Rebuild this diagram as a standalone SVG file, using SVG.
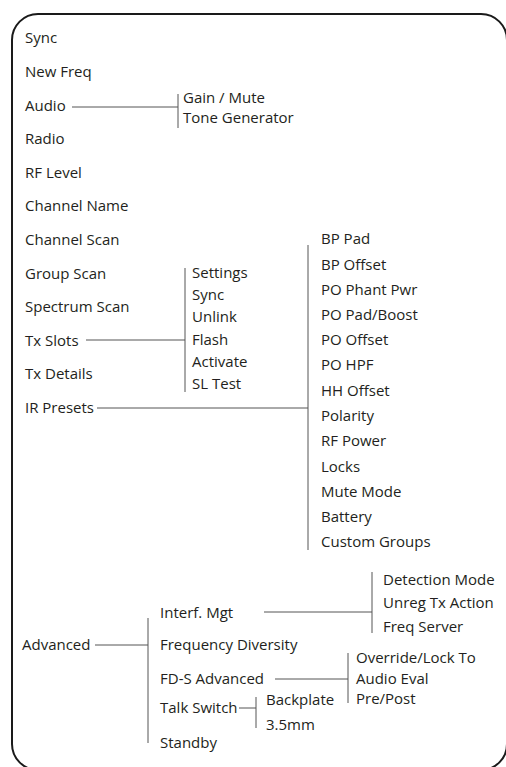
<svg xmlns="http://www.w3.org/2000/svg" width="506" height="767" viewBox="0 0 506 767">
<style>
text{font-family:"Open Sans","Liberation Sans",sans-serif;font-size:15px;fill:#231f20}
.c{stroke:#555;stroke-width:1;fill:none}
.frame{fill:#fff;stroke:#1a1a1a;stroke-width:2}
</style>
<rect width="506" height="767" fill="#fff"/>
<rect class="frame" x="12" y="14" width="495" height="756" rx="26" ry="26"/>
<g id="connectors">
<path class="c" d="M72 107H178M178 94V128"/>
<path class="c" d="M86 340H185M185 268V392"/>
<path class="c" d="M97 408H308M308 245V550"/>
<path class="c" d="M264 612H372M372 572V633"/>
<path class="c" d="M95 645H148M148 618V743"/>
<path class="c" d="M275 679H348M348 653V703"/>
<path class="c" d="M239 708H256M256 697V728"/>
</g>
<g id="n-sync"><text x="25" y="43">Sync</text></g>
<g id="n-newfreq"><text x="25" y="77">New Freq</text></g>
<g id="n-audio"><text x="25" y="111">Audio</text></g>
<g id="n-audio-sub"><text x="183" y="103">Gain / Mute</text><text x="183" y="123">Tone Generator</text></g>
<g id="n-radio"><text x="25" y="144">Radio</text></g>
<g id="n-rflevel"><text x="25" y="178">RF Level</text></g>
<g id="n-channelname"><text x="25" y="211">Channel Name</text></g>
<g id="n-channelscan"><text x="25" y="245">Channel Scan</text></g>
<g id="n-groupscan"><text x="25" y="279">Group Scan</text></g>
<g id="n-spectrumscan"><text x="25" y="312">Spectrum Scan</text></g>
<g id="n-txslots"><text x="25" y="346">Tx Slots</text></g>
<g id="n-txdetails"><text x="25" y="379">Tx Details</text></g>
<g id="n-irpresets"><text x="25" y="413">IR Presets</text></g>
<g id="n-txslots-sub">
<text x="192" y="278">Settings</text>
<text x="192" y="300">Sync</text>
<text x="192" y="322">Unlink</text>
<text x="192" y="345">Flash</text>
<text x="192" y="367">Activate</text>
<text x="192" y="389">SL Test</text>
</g>
<g id="n-irpresets-sub">
<text x="321" y="244">BP Pad</text>
<text x="321" y="270">BP Offset</text>
<text x="321" y="295">PO Phant Pwr</text>
<text x="321" y="320">PO Pad/Boost</text>
<text x="321" y="345">PO Offset</text>
<text x="321" y="370">PO HPF</text>
<text x="321" y="396">HH Offset</text>
<text x="321" y="421">Polarity</text>
<text x="321" y="446">RF Power</text>
<text x="321" y="472">Locks</text>
<text x="321" y="497">Mute Mode</text>
<text x="321" y="522">Battery</text>
<text x="321" y="547">Custom Groups</text>
</g>
<g id="n-advanced"><text x="22" y="650">Advanced</text></g>
<g id="n-interf"><text x="160" y="618">Interf. Mgt</text></g>
<g id="n-freqdiv"><text x="160" y="650">Frequency Diversity</text></g>
<g id="n-fds"><text x="160" y="684">FD-S Advanced</text></g>
<g id="n-talk"><text x="160" y="713">Talk Switch</text></g>
<g id="n-standby"><text x="160" y="748">Standby</text></g>
<g id="n-interf-sub">
<text x="383" y="585">Detection Mode</text>
<text x="383" y="608">Unreg Tx Action</text>
<text x="383" y="632">Freq Server</text>
</g>
<g id="n-fds-sub">
<text x="356" y="663">Override/Lock To</text>
<text x="356" y="684">Audio Eval</text>
<text x="356" y="704">Pre/Post</text>
</g>
<g id="n-talk-sub">
<text x="266" y="705">Backplate</text>
<text x="266" y="730">3.5mm</text>
</g>
</svg>
